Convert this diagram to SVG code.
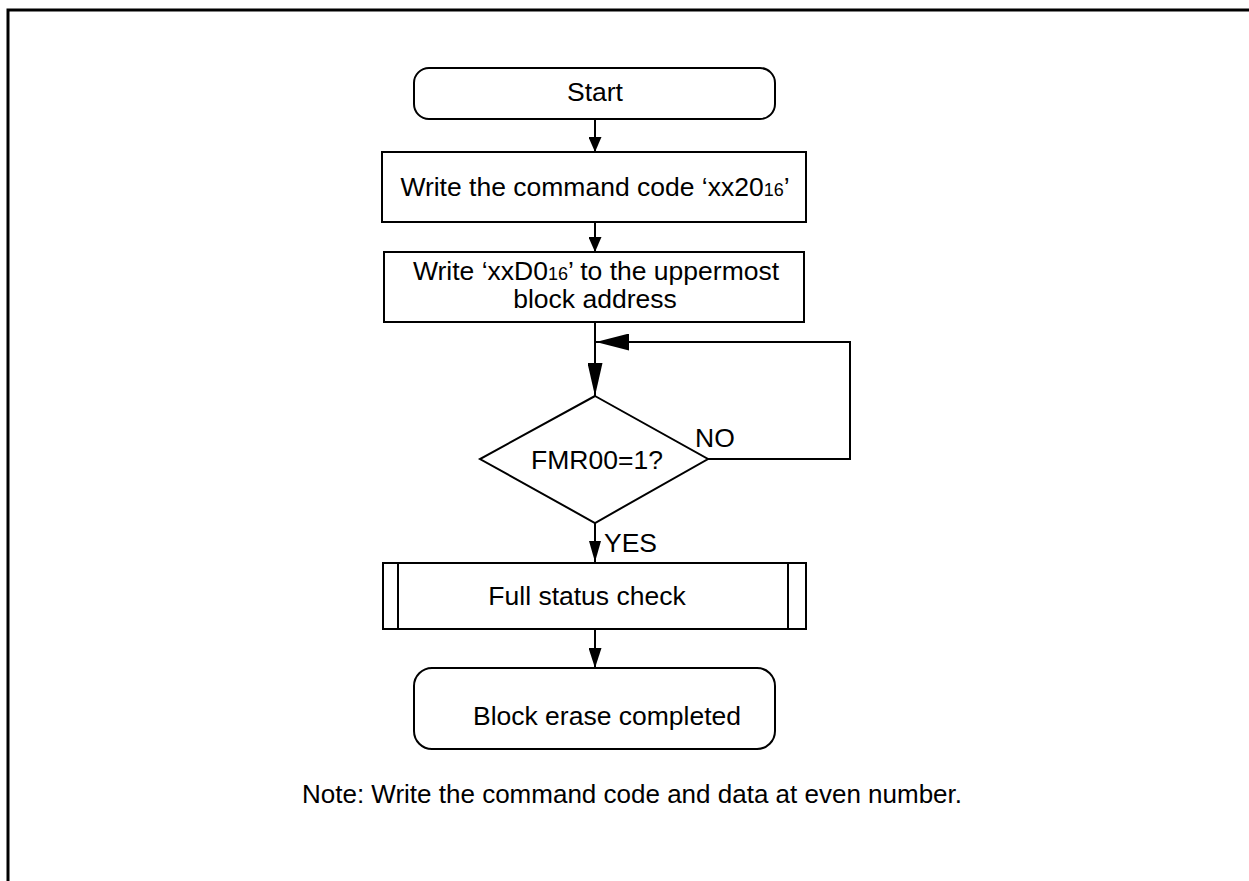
<svg xmlns="http://www.w3.org/2000/svg" width="1249" height="881" viewBox="0 0 1249 881">
<style>
.s{fill:#fff;stroke:#000;stroke-width:2}
.c{fill:none;stroke:#000;stroke-width:2}
text{font-family:"Liberation Sans",Arial,sans-serif;font-size:26.5px;fill:#000}
.m{text-anchor:middle}
.sub{font-size:18px}
.n{font-size:26px}
</style>
<defs>
<marker id="a1" viewBox="0 0 15 13" refX="15" refY="6.5" markerWidth="15" markerHeight="13" orient="auto" markerUnits="userSpaceOnUse"><path d="M0,0 L15,6.5 L0,13 z"/></marker>
<marker id="a2" viewBox="0 0 33 15" refX="33" refY="7.5" markerWidth="33" markerHeight="15" orient="auto" markerUnits="userSpaceOnUse"><path d="M0,0 L33,7.5 L0,15 z"/></marker>
<marker id="a3" viewBox="0 0 33 17" refX="33" refY="8.5" markerWidth="33" markerHeight="17" orient="auto" markerUnits="userSpaceOnUse"><path d="M0,0 L33,8.5 L0,17 z"/></marker>
<marker id="a4" viewBox="0 0 21 12" refX="21" refY="6" markerWidth="21" markerHeight="12" orient="auto" markerUnits="userSpaceOnUse"><path d="M0,0 L21,6 L0,12 z"/></marker>
<marker id="a5" viewBox="0 0 20 13" refX="20" refY="6.5" markerWidth="20" markerHeight="13" orient="auto" markerUnits="userSpaceOnUse"><path d="M0,0 L20,6.5 L0,13 z"/></marker>
</defs>
<rect width="1249" height="881" fill="#fff"/>
<path d="M8,900 V10 H1260" fill="none" stroke="#000" stroke-width="3"/>
<g id="connectors">
<path class="c" d="M595,119 V152" marker-end="url(#a1)"/>
<path class="c" d="M595,222 V252" marker-end="url(#a1)"/>
<path class="c" d="M595,322 V396" marker-end="url(#a2)"/>
<path class="c" d="M708,459 H850 V342 H596" marker-end="url(#a3)"/>
<path class="c" d="M595,523 V562" marker-end="url(#a4)"/>
<path class="c" d="M595,629 V668" marker-end="url(#a5)"/>
</g>
<g id="start">
<rect class="s" x="414" y="68" width="361" height="51" rx="15"/>
<text class="m" x="595" y="101">Start</text>
</g>
<g id="write-cmd">
<rect class="s" x="382" y="152" width="424" height="70"/>
<text class="m" x="595" y="196">Write the command code ‘xx20<tspan class="sub">16</tspan>’</text>
</g>
<g id="write-data">
<rect class="s" x="384" y="252" width="420" height="70"/>
<text class="m" x="596" y="280">Write ‘xxD0<tspan class="sub">16</tspan>’ to the uppermost</text>
<text class="m" x="595" y="308">block address</text>
</g>
<g id="decision">
<polygon class="s" points="595,396 708,459 595,523 480,459"/>
<text class="m" x="597" y="469">FMR00=1?</text>
<text x="695" y="447">NO</text>
<text x="604" y="552">YES</text>
</g>
<g id="status-check">
<rect class="s" x="383" y="563" width="423" height="66"/>
<path class="c" d="M398,563 V629 M788,563 V629"/>
<text class="m" x="587" y="605">Full status check</text>
</g>
<g id="end">
<rect class="s" x="414" y="668" width="361" height="81" rx="18"/>
<text class="m" x="607" y="725">Block erase completed</text>
</g>
<g id="note">
<text class="n" x="302" y="803">Note: Write the command code and data at even number.</text>
</g>
</svg>
